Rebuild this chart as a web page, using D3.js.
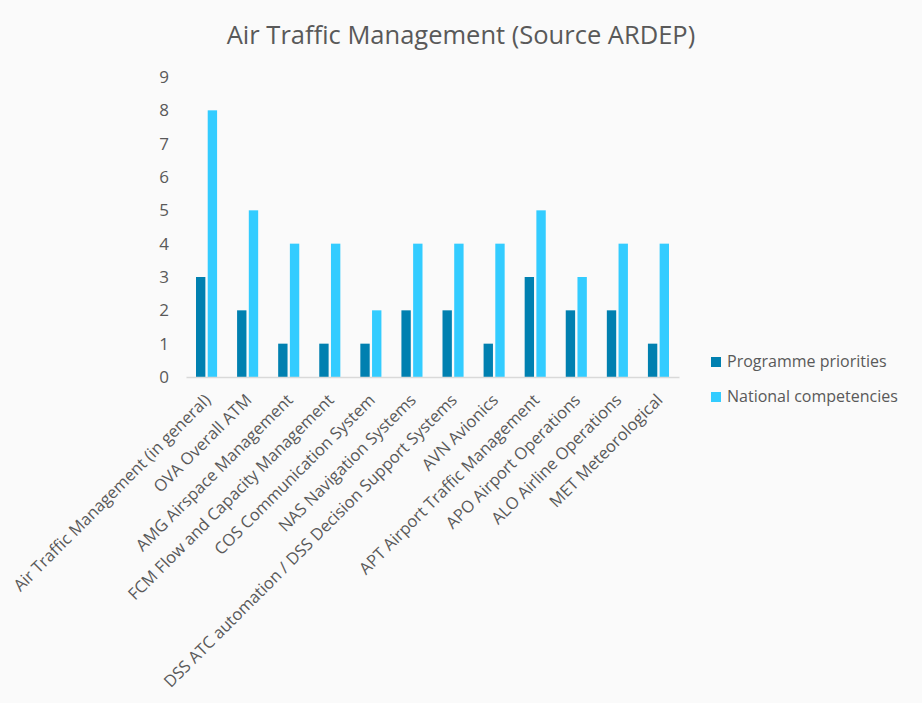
<!DOCTYPE html>
<html><head><meta charset="utf-8">
<script src="https://cdn.jsdelivr.net/npm/d3@7"></script>
<style>
html,body{margin:0;padding:0;background:#fafafa;}
text{font-family:"Open Sans","Noto Sans",sans-serif;}
</style></head>
<body>
<svg id="chart" width="922" height="703"></svg>
<script>
const categories = [
  "Air Traffic Management (in general)",
  "OVA Overall ATM",
  "AMG Airspace Management",
  "FCM Flow and Capacity Management",
  "COS Communication System",
  "NAS Navigation Systems",
  "DSS ATC automation / DSS Decision Support Systems",
  "AVN Avionics",
  "APT Airport Traffic Management",
  "APO Airport Operations",
  "ALO Airline Operations",
  "MET Meteorological"
];
const seriesNames = ["Programme priorities", "National competencies"];
const programmePriorities = [3, 2, 1, 1, 1, 2, 2, 1, 3, 2, 2, 1];
const nationalCompetencies = [8, 5, 4, 4, 2, 4, 4, 4, 5, 3, 4, 4];
const yTicks = [0, 1, 2, 3, 4, 5, 6, 7, 8, 9];
const colors = ["#0080B0", "#33CCFF"];
const title = "Air Traffic Management (Source ARDEP)";

const svg = d3.select("#chart");
svg.append("rect").attr("width", 922).attr("height", 703).attr("fill", "#fafafa");

const x = d3.scaleBand().domain(categories).range([186, 679]).padding(0);
const x1 = d3.scaleBand().domain(seriesNames).range([10, x.bandwidth() - 10]).paddingInner(0.2);
const y = d3.scaleLinear().domain([0, 9]).range([377, 77]);

const data = categories.map((c, i) => ({cat: c, vals: [programmePriorities[i], nationalCompetencies[i]]}));

svg.append("text").attr("x", 461).attr("y", 44).attr("text-anchor", "middle")
  .attr("font-size", 25.5).attr("fill", "#595959").text(title);

// y axis
const yAxis = svg.append("g").attr("transform", "translate(169,0)")
  .call(d3.axisLeft(y).tickValues(yTicks).tickSize(0).tickPadding(0).tickFormat(d3.format("d")));
yAxis.select(".domain").remove();
yAxis.selectAll("text").attr("font-size", 17).attr("fill", "#595959")
  .attr("font-family", "'Open Sans','Noto Sans',sans-serif");

// bars
const groups = svg.append("g").selectAll("g").data(data).join("g")
  .attr("transform", d => `translate(${x(d.cat)},0)`);
groups.selectAll("rect").data(d => d.vals.map((v, j) => ({s: seriesNames[j], v, j}))).join("rect")
  .attr("x", d => x1(d.s)).attr("width", x1.bandwidth())
  .attr("y", d => y(d.v)).attr("height", d => y(0) - y(d.v))
  .attr("fill", d => colors[d.j]);

// x axis
const xAxis = svg.append("g").attr("transform", `translate(0,${y(0)})`)
  .call(d3.axisBottom(x).tickSize(0).tickPadding(0));
xAxis.select(".domain").attr("stroke", "#d9d9d9").attr("stroke-width", 1.5);
xAxis.selectAll("text")
  .attr("font-size", 16.5).attr("fill", "#595959")
  .attr("font-family", "'Open Sans','Noto Sans',sans-serif")
  .attr("text-anchor", "end")
  .attr("dy", null).attr("y", 0)
  .attr("transform", "translate(2,21) rotate(-45)")
  .attr("dominant-baseline", "middle");

// legend
const legend = svg.append("g").selectAll("g").data(seriesNames).join("g")
  .attr("transform", (d, i) => `translate(711,${357 + i * 35})`);
legend.append("rect").attr("width", 10).attr("height", 10).attr("fill", (d, i) => colors[i]);
legend.append("text").attr("x", 16).attr("y", 4).attr("dy", "0.35em")
  .attr("font-size", 16).attr("fill", "#595959").text(d => d);
</script>
</body></html>
